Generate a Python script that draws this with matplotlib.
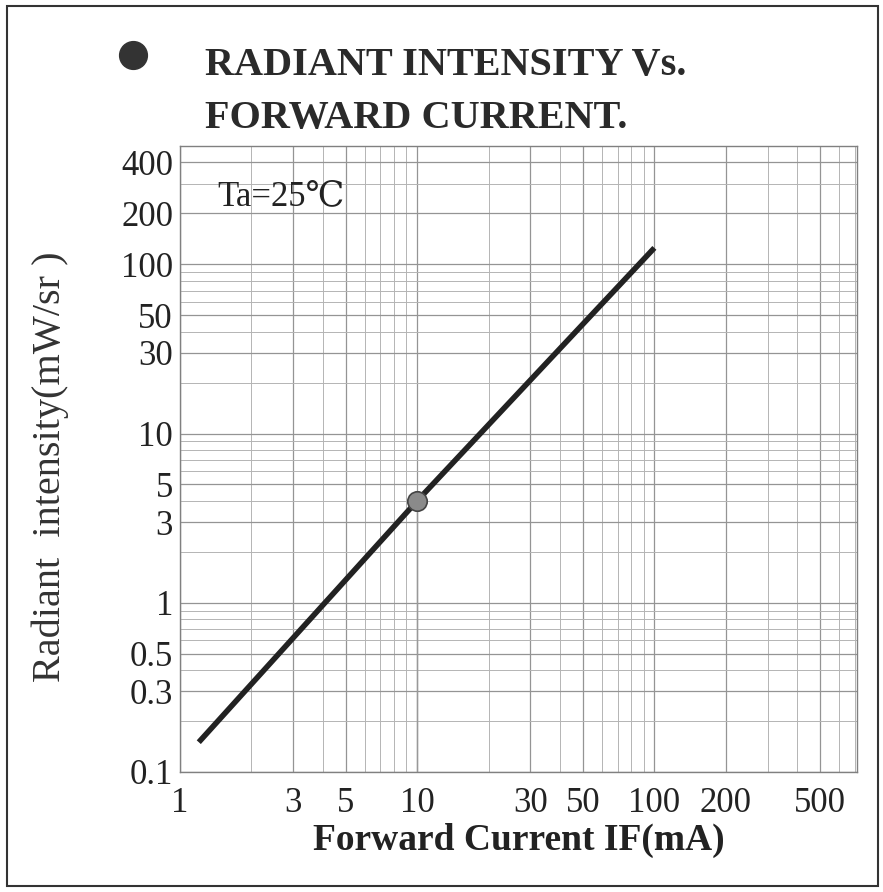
import matplotlib
matplotlib.use("Agg")
import matplotlib.pyplot as plt
from matplotlib.patches import Rectangle
from matplotlib.lines import Line2D

# ---- data ----
current_ma = [1.2, 10, 100]
intensity = [0.15, 4.0, 125]
marker_current = [10]
marker_intensity = [4.0]

x_ticks = [1, 3, 5, 10, 30, 50, 100, 200, 500]
x_tick_labels = ["1", "3", "5", "10", "30", "50", "100", "200", "500"]
y_ticks = [0.1, 0.3, 0.5, 1, 3, 5, 10, 30, 50, 100, 200, 400]
y_tick_labels = ["0.1", "0.3", "0.5", "1", "3", "5", "10", "30", "50", "100", "200", "400"]

title_lines = ["RADIANT INTENSITY Vs.", "FORWARD CURRENT."]
x_label = "Forward Current IF(mA)"
y_label = "Radiant  intensity(mW/sr )"
condition = "Ta=25℃"

SERIF = ["Liberation Serif", "DejaVu Serif", "DejaVu Sans"]
plt.rcParams["font.family"] = SERIF

fig = plt.figure(figsize=(8.83, 8.92), dpi=100)
fig.patch.set_facecolor("white")

ax = fig.add_axes([180 / 883, 1 - 772 / 892, (857 - 180) / 883, (772 - 146) / 892])
ax.set_xscale("log")
ax.set_yscale("log")
ax.set_xlim(1, 715)
ax.set_ylim(0.1, 500)

# grid
ax.grid(True, which="major", color="#949494", lw=0.9)
ax.grid(True, which="minor", color="#b4b4b4", lw=0.7)
ax.set_axisbelow(True)
for s in ax.spines.values():
    s.set_color("#808080")
    s.set_linewidth(1.0)

ax.set_xticks(x_ticks)
ax.set_xticklabels(x_tick_labels)
ax.set_yticks(y_ticks)
ax.set_yticklabels(y_tick_labels)
ax.tick_params(which="both", length=0)
ax.tick_params(axis="x", labelsize=25, pad=11, colors="#222222")
ax.tick_params(axis="y", labelsize=25, pad=5, colors="#222222")

# curve
ax.plot(current_ma, intensity, color="#222222", lw=4, solid_capstyle="butt", zorder=3)
# thin drop line from marker point
ax.plot([marker_current[0], marker_current[0]], [0.1, marker_intensity[0]],
        color="#999999", lw=1.0, zorder=2)
ax.plot(marker_current, marker_intensity, "o", ms=14, color="#8a8a8a",
        mec="#444444", mew=1.2, zorder=4)

ax.text(0.055, 0.905, condition, transform=ax.transAxes, fontsize=25,
        color="#222222", va="baseline", ha="left", family=SERIF)

ax.set_xlabel(x_label, fontsize=27, fontweight="bold", color="#222222", labelpad=2)
fig.text(50 / 883, 1 - 467 / 892, y_label, rotation=90, fontsize=29,
         color="#333333", ha="center", va="center")

# title
fig.text(205 / 883, 1 - 75 / 892, title_lines[0], fontsize=29, fontweight="bold",
         color="#2a2a2a", ha="left", va="baseline")
fig.text(205 / 883, 1 - 128 / 892, title_lines[1], fontsize=29, fontweight="bold",
         color="#2a2a2a", ha="left", va="baseline")
fig.add_artist(Line2D([133 / 883], [1 - 55 / 892], marker="o", ms=20,
                      color="#333333", transform=fig.transFigure))

# outer frame
fig.add_artist(Rectangle((7 / 883, 6 / 892), 871 / 883, 880 / 892,
                         transform=fig.transFigure, fill=False,
                         edgecolor="#333333", lw=1.5))

fig.savefig("out.png", dpi=100, facecolor="white")
